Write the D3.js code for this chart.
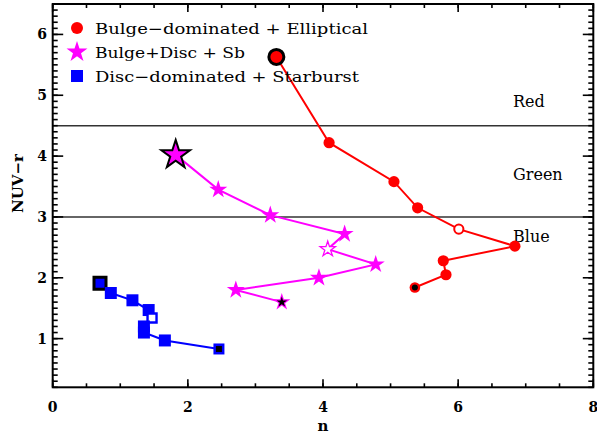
<!DOCTYPE html>
<html>
<head>
<meta charset="utf-8">
<script src="https://cdn.jsdelivr.net/npm/d3@7"></script>
<style>
  body { margin: 0; background: #fff; }
  svg { display: block; }
  text { font-family: "DejaVu Serif", "Liberation Serif", serif; fill: #000; }
</style>
</head>
<body>
<svg id="chart" width="597" height="436"></svg>
<script>
// ---- Data ----
const seriesNames = ["Bulge\u2212dominated + Elliptical", "Bulge+Disc + Sb", "Disc\u2212dominated + Starburst"];
const seriesColors = ["#ff0000", "#ff00ff", "#0000ff"];

// Bulge-dominated + Elliptical (circles)
const ellN   = [3.31, 4.09, 5.05, 5.40, 6.01, 6.84, 5.78, 5.82, 5.36];
const ellNUV = [5.63, 4.22, 3.58, 3.15, 2.80, 2.52, 2.28, 2.05, 1.84];
// Bulge+Disc + Sb (stars)
const sbN    = [1.82, 2.45, 3.22, 4.32, 4.07, 4.78, 3.94, 2.71, 3.39];
const sbNUV  = [4.02, 3.45, 3.03, 2.72, 2.47, 2.22, 2.00, 1.80, 1.60];
// Disc-dominated + Starburst (squares)
const sbuN   = [0.70, 0.86, 1.18, 1.42, 1.47, 1.35, 1.35, 1.66, 2.46];
const sbuNUV = [1.91, 1.75, 1.63, 1.47, 1.34, 1.20, 1.10, 0.97, 0.83];
// point kinds: first = big (end), open = middle open, last = black-centred
const ellOpenIndex = 4, sbOpenIndex = 4, sbuOpenIndex = 4;

const xTicks = [0, 2, 4, 6, 8];
const yTicks = [1, 2, 3, 4, 5, 6];
const colourLines = [3.0, 4.5];
const regionLabels = ["Red", "Green", "Blue"];
const regionY = [4.81, 3.60, 2.59];

// ---- Layout ----
const svg = d3.select("#chart");
const L = 52.7, R = 593.3, T = 4, B = 387.3;
const x = d3.scaleLinear().domain([0, 8]).range([L, R]);
const y = d3.scaleLinear().domain([0.2, 6.5]).range([B, T]);

// colour separation lines
svg.selectAll("line.sep").data(colourLines).join("line")
  .attr("x1", L).attr("x2", R)
  .attr("y1", d => y(d)).attr("y2", d => y(d))
  .attr("stroke", "#333").attr("stroke-width", 1.6);

// region labels
svg.selectAll("text.region").data(regionLabels).join("text")
  .attr("x", 513).attr("y", (d, i) => y(regionY[i]))
  .attr("font-size", 16)
  .text(d => d);

// ---- Axes (ticks inward) ----
const xMinor = d3.range(0, 8.01, 0.5);
const yMinor = d3.range(0.2, 6.501, 0.1).map(v => +v.toFixed(2));

function drawAxis(g, orient) {
  const horiz = orient === "bottom" || orient === "top";
  const scale = horiz ? x : y;
  const minor = horiz ? xMinor : yMinor;
  const major = horiz ? xTicks : yTicks;
  const majLen = horiz ? 8 : 10.5, minLen = horiz ? 4 : 5;
  const base = orient === "bottom" ? B : orient === "top" ? T : orient === "left" ? L : R;
  const dir = (orient === "bottom" || orient === "right") ? -1 : 1;
  const ticks = minor.map(v => ({v, len: minLen}))
    .concat(major.map(v => ({v, len: majLen})));
  g.selectAll("line.t").data(ticks).join("line")
    .attr("stroke", "#000").attr("stroke-width", 1.6)
    .attr("x1", d => horiz ? scale(d.v) : base)
    .attr("x2", d => horiz ? scale(d.v) : base + dir * d.len)
    .attr("y1", d => horiz ? base : scale(d.v))
    .attr("y2", d => horiz ? base + dir * d.len : scale(d.v));
}
["bottom", "top", "left", "right"].forEach(o => drawAxis(svg.append("g"), o));

svg.append("rect").attr("x", L).attr("y", T).attr("width", R - L).attr("height", B - T)
  .attr("fill", "none").attr("stroke", "#000").attr("stroke-width", 2);

// tick labels
svg.selectAll("text.xt").data(xTicks).join("text")
  .attr("x", d => x(d)).attr("y", 412).attr("text-anchor", "middle")
  .attr("font-size", 14).attr("font-weight", "bold").text(d => d);
svg.selectAll("text.yt").data(yTicks).join("text")
  .attr("x", 47).attr("y", d => y(d) + 5).attr("text-anchor", "end")
  .attr("font-size", 14).attr("font-weight", "bold").text(d => d);

// axis titles
svg.append("text").attr("x", (L + R) / 2).attr("y", 431).attr("text-anchor", "middle")
  .attr("font-size", 15).attr("font-weight", "bold").text("n");
svg.append("text").attr("transform", `translate(23,${y(3.55)}) rotate(-90)`)
  .attr("text-anchor", "middle").attr("font-size", 15).attr("font-weight", "bold").text("NUV\u2212r");

// ---- Series ----
const line = d3.line().x(d => x(d[0])).y(d => y(d[1]));
const zip = (a, b) => a.map((v, i) => [v, b[i]]);
const ell = zip(ellN, ellNUV), sb = zip(sbN, sbNUV), sbu = zip(sbuN, sbuNUV);

[ell, sb, sbu].forEach((pts, i) => {
  svg.append("path").datum(pts).attr("d", line)
    .attr("fill", "none").attr("stroke", seriesColors[i]).attr("stroke-width", 2);
});

const starSize = r => r * r / 0.8908130915292852;
const star = r => d3.symbol(d3.symbolStar, starSize(r))();
const sq = s => d3.symbol(d3.symbolSquare, s * s)();

// ellipticals
const gE = svg.append("g");
ell.forEach((p, i) => {
  const cx = x(p[0]), cy = y(p[1]);
  if (i === 0) {
    gE.append("circle").attr("cx", cx).attr("cy", cy).attr("r", 7.5)
      .attr("fill", "#ff0000").attr("stroke", "#000").attr("stroke-width", 3);
  } else if (i === ellOpenIndex) {
    gE.append("circle").attr("cx", cx).attr("cy", cy).attr("r", 4.6)
      .attr("fill", "#fff").attr("stroke", "#ff0000").attr("stroke-width", 2);
  } else if (i === ell.length - 1) {
    gE.append("circle").attr("cx", cx).attr("cy", cy).attr("r", 5.3).attr("fill", "#ff0000");
    gE.append("circle").attr("cx", cx).attr("cy", cy).attr("r", 3).attr("fill", "#000");
  } else {
    gE.append("circle").attr("cx", cx).attr("cy", cy).attr("r", 5.6).attr("fill", "#ff0000");
  }
});

// Sb stars
const gS = svg.append("g");
sb.forEach((p, i) => {
  const t = `translate(${x(p[0])},${y(p[1])})`;
  if (i === 0) {
    gS.append("path").attr("d", star(15)).attr("transform", t)
      .attr("fill", "#ff00ff").attr("stroke", "#000").attr("stroke-width", 2);
  } else if (i === sbOpenIndex) {
    gS.append("path").attr("d", star(8)).attr("transform", t)
      .attr("fill", "#fff").attr("stroke", "#ff00ff").attr("stroke-width", 1.3);
  } else if (i === sb.length - 1) {
    gS.append("path").attr("d", star(9)).attr("transform", t).attr("fill", "#ff00ff");
    gS.append("path").attr("d", star(5.5)).attr("transform", t).attr("fill", "#000");
  } else {
    gS.append("path").attr("d", star(9.5)).attr("transform", t).attr("fill", "#ff00ff");
  }
});

// Starburst squares
const gQ = svg.append("g");
sbu.forEach((p, i) => {
  const t = `translate(${x(p[0])},${y(p[1])})`;
  if (i === 0) {
    gQ.append("path").attr("d", sq(12)).attr("transform", t)
      .attr("fill", "#0000ff").attr("stroke", "#000").attr("stroke-width", 3);
  } else if (i === sbuOpenIndex) {
    gQ.append("path").attr("d", sq(9)).attr("transform", t)
      .attr("fill", "#fff").attr("stroke", "#0000ff").attr("stroke-width", 2.4);
  } else if (i === sbu.length - 1) {
    gQ.append("path").attr("d", sq(11)).attr("transform", t).attr("fill", "#0000ff");
    gQ.append("path").attr("d", sq(6)).attr("transform", t).attr("fill", "#000");
  } else {
    gQ.append("path").attr("d", sq(12)).attr("transform", t).attr("fill", "#0000ff");
  }
});

// ---- Legend ----
const legW = [273, 150, 264];
const lg = svg.append("g");
seriesNames.forEach((name, i) => {
  const cy = 28 + i * 24;
  if (i === 0) lg.append("circle").attr("cx", 77).attr("cy", cy).attr("r", 6).attr("fill", seriesColors[0]);
  if (i === 1) lg.append("path").attr("d", star(11)).attr("transform", `translate(77,${cy})`).attr("fill", seriesColors[1]);
  if (i === 2) lg.append("path").attr("d", sq(12)).attr("transform", `translate(77,${cy})`).attr("fill", seriesColors[2]);
  lg.append("text").attr("x", 95).attr("y", cy + 5.5).attr("font-size", 15)
    .attr("textLength", legW[i]).attr("lengthAdjust", "spacingAndGlyphs").text(name);
});
</script>
</body>
</html>
